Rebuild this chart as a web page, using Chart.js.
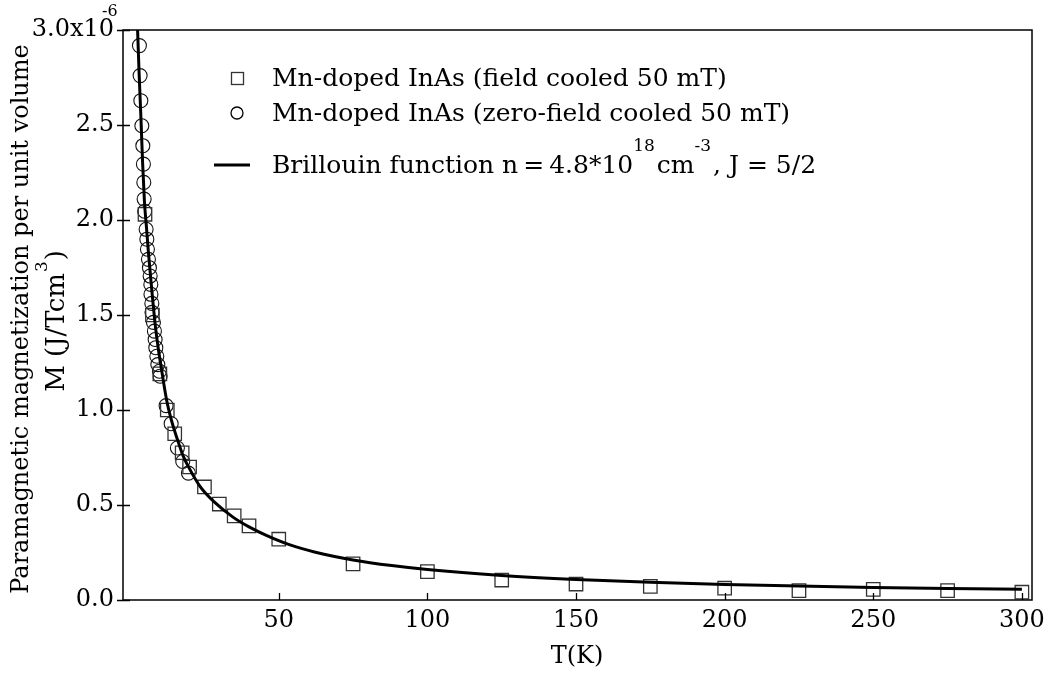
<!DOCTYPE html>
<html>
<head>
<meta charset="utf-8">
<script src="https://cdn.jsdelivr.net/npm/chart.js@4.4.0/dist/chart.umd.min.js"></script>
<style>
  html, body { margin: 0; background: #fff; }
  #wrap { width: 1053px; height: 675px; }
</style>
</head>
<body>
<div id="wrap"><canvas id="myChart"></canvas></div>
<script>
const FONT = "'DejaVu Serif', serif";

// field cooled 50 mT (squares)
const fcT = [5, 7.5, 10, 12.5, 15, 17.5, 20, 25, 30, 35, 40, 50, 75, 100, 125, 150, 175, 200, 225, 250, 275, 300];
const fcM = [2.03, 1.5, 1.19, 1.0, 0.875, 0.775, 0.7, 0.595, 0.505, 0.443, 0.39, 0.32, 0.19, 0.149, 0.105, 0.084, 0.072, 0.062, 0.049, 0.056, 0.049, 0.041];

// zero-field cooled 50 mT (circles)
const zfcT = [3.13, 3.36, 3.6, 3.94, 4.27, 4.47, 4.6, 4.71, 4.88, 5.38, 5.62, 5.82, 6.16, 6.49, 6.73, 6.96, 7.0, 7.3, 7.35, 7.84, 8.17, 8.41, 8.64, 8.98, 9.32, 9.86, 10.09, 12.1, 13.8, 15.9, 17.7, 19.6];
const zfcM = [2.918, 2.76, 2.628, 2.496, 2.391, 2.294, 2.198, 2.11, 2.046, 1.951, 1.899, 1.846, 1.793, 1.749, 1.705, 1.661, 1.609, 1.561, 1.514, 1.461, 1.415, 1.371, 1.328, 1.283, 1.239, 1.204, 1.178, 1.023, 0.928, 0.8, 0.729, 0.668];

// Brillouin function curve
const fitT = [2.4, 3.0, 3.6, 4.2, 4.8, 5.5, 6.2, 7.0, 7.6, 8.5, 9.5, 10.5, 12.3, 14.0, 16.0, 17.9, 20.0, 23.5, 28, 34.7, 40, 46, 53.8, 62, 75, 88, 100, 125, 150, 175, 200, 225, 250, 275, 300];
const fitM = [3.05, 2.78, 2.55, 2.3, 2.1, 1.96, 1.82, 1.68, 1.58, 1.44, 1.32, 1.22, 1.05, 0.94, 0.84, 0.756, 0.69, 0.598, 0.52, 0.435, 0.385, 0.339, 0.29, 0.253, 0.211, 0.181, 0.16, 0.129, 0.108, 0.093, 0.082, 0.0733, 0.0664, 0.0607, 0.056];

const xTicks = [50, 100, 150, 200, 250, 300];
const yTicks = [0, 0.5, 1, 1.5, 2, 2.5, 3];

const legendFc = "Mn-doped InAs (field cooled 50 mT)";
const legendZfc = "Mn-doped InAs (zero-field cooled 50 mT)";
const legendFit = ["Brillouin function n\u2009=\u20094.8*10", "18", "cm", "-3", ", J = 5/2"];
const yTitle = ["Paramagnetic magnetization per unit volume", "M (J/Tcm", "3", ")"];
const xTitle = "T(K)";

const toXY = (xs, ys) => xs.map((x, i) => ({ x: x, y: ys[i] }));

// frame, inner ticks, titles, legend and superscripts
const decorations = {
  id: "decorations",
  afterDraw(chart) {
    const ctx = chart.ctx;
    const area = chart.chartArea;
    const xs = chart.scales.x;
    const ys = chart.scales.y;
    ctx.save();
    ctx.strokeStyle = "#000";
    ctx.fillStyle = "#000";

    // box
    ctx.lineWidth = 1.5;
    ctx.strokeRect(area.left, area.top, area.right - area.left, area.bottom - area.top);

    // tick marks
    ctx.lineWidth = 1.3;
    ctx.beginPath();
    yTicks.forEach((v) => {
      const py = Math.round(ys.getPixelForValue(v)) + 0.5;
      ctx.moveTo(area.left - 6, py);
      ctx.lineTo(area.left + 7, py);
    });
    xTicks.forEach((v) => {
      const px = Math.round(xs.getPixelForValue(v)) + 0.5;
      ctx.moveTo(px, area.bottom);
      ctx.lineTo(px, area.bottom - 7);
    });
    ctx.stroke();

    // exponent of the top tick label
    ctx.font = "16px " + FONT;
    ctx.textAlign = "left";
    ctx.textBaseline = "middle";
    ctx.fillText("-6", 102, 12);

    // x title
    ctx.font = "24px " + FONT;
    ctx.textAlign = "center";
    ctx.fillText(xTitle, 577, 657);

    // y title, two rotated lines
    ctx.save();
    ctx.translate(22, 319);
    ctx.rotate(-Math.PI / 2);
    ctx.font = "24px " + FONT;
    ctx.textAlign = "center";
    ctx.fillText(yTitle[0], 0, 0);
    ctx.restore();

    ctx.save();
    ctx.font = "26px " + FONT;
    const w1 = ctx.measureText(yTitle[1]).width;
    const w3 = ctx.measureText(yTitle[3]).width;
    ctx.font = "17px " + FONT;
    const w2 = ctx.measureText(yTitle[2]).width;
    const total = w1 + w2 + w3;
    ctx.translate(57, 322 + total / 2);
    ctx.rotate(-Math.PI / 2);
    ctx.textAlign = "left";
    ctx.font = "26px " + FONT;
    ctx.fillText(yTitle[1], 0, 0);
    ctx.font = "17px " + FONT;
    ctx.fillText(yTitle[2], w1 + 1, -14);
    ctx.font = "26px " + FONT;
    ctx.fillText(yTitle[3], w1 + w2 + 2, 0);
    ctx.restore();

    // legend
    const tx = 272;
    ctx.lineWidth = 1.3;
    ctx.strokeStyle = "#333";
    ctx.strokeRect(231.5, 72.5, 12, 12);
    ctx.beginPath();
    ctx.arc(237, 113, 6, 0, Math.PI * 2);
    ctx.strokeStyle = "#000";
    ctx.stroke();
    ctx.lineWidth = 3;
    ctx.beginPath();
    ctx.moveTo(214, 165);
    ctx.lineTo(250, 165);
    ctx.stroke();

    ctx.textAlign = "left";
    ctx.font = "25px " + FONT;
    ctx.fillText(legendFc, tx, 79);
    ctx.fillText(legendZfc, tx, 114);
    let cx = tx;
    legendFit.forEach((part, i) => {
      const sup = i === 1 || i === 3;
      ctx.font = (sup ? "17px " : "25px ") + FONT;
      ctx.fillText(part, cx, sup ? 147 : 166);
      cx += ctx.measureText(part).width + (sup ? 2 : 0);
    });
    ctx.restore();
  },
};

const chartContext = document.getElementById("myChart").getContext("2d");

const chart = new Chart(chartContext, {
  type: "scatter",
  data: {
    datasets: [
      {
        label: "Brillouin function",
        data: toXY(fitT, fitM),
        showLine: true,
        borderColor: "#000",
        borderWidth: 3,
        pointRadius: 0,
        cubicInterpolationMode: "monotone",
      },
      {
        label: legendFc,
        data: toXY(fcT, fcM),
        pointStyle: "rect",
        pointRadius: 9.5,
        borderColor: "#333",
        backgroundColor: "rgba(0,0,0,0)",
        borderWidth: 1.3,
      },
      {
        label: legendZfc,
        data: toXY(zfcT, zfcM),
        pointStyle: "circle",
        pointRadius: 7,
        borderColor: "#111",
        backgroundColor: "rgba(0,0,0,0)",
        borderWidth: 1.1,
      },
    ],
  },
  options: {
    responsive: true,
    maintainAspectRatio: false,
    animation: false,
    layout: { padding: { top: 30, right: 21, left: 0, bottom: 0 } },
    plugins: {
      legend: { display: false },
      tooltip: { enabled: false },
    },
    scales: {
      x: {
        type: "linear",
        min: -2.4,
        max: 303.4,
        grid: { display: false, drawTicks: false },
        border: { display: false },
        afterBuildTicks: (scale) => {
          scale.ticks = xTicks.map((v) => ({ value: v }));
        },
        afterFit: (scale) => {
          scale.height = 75;
        },
        ticks: {
          color: "#000",
          padding: 6,
          font: { family: FONT, size: 24 },
          maxRotation: 0,
          callback: (v) => String(v),
        },
      },
      y: {
        type: "linear",
        min: 0,
        max: 3,
        grid: { display: false, drawTicks: false },
        border: { display: false },
        afterBuildTicks: (scale) => {
          scale.ticks = yTicks.map((v) => ({ value: v }));
        },
        afterFit: (scale) => {
          scale.width = 123;
        },
        ticks: {
          color: "#000",
          padding: 9,
          font: { family: FONT, size: 24 },
          callback: (v) => (v === 3 ? "3.0x10" : v.toFixed(1)),
        },
      },
    },
  },
  plugins: [decorations],
});
</script>
</body>
</html>
